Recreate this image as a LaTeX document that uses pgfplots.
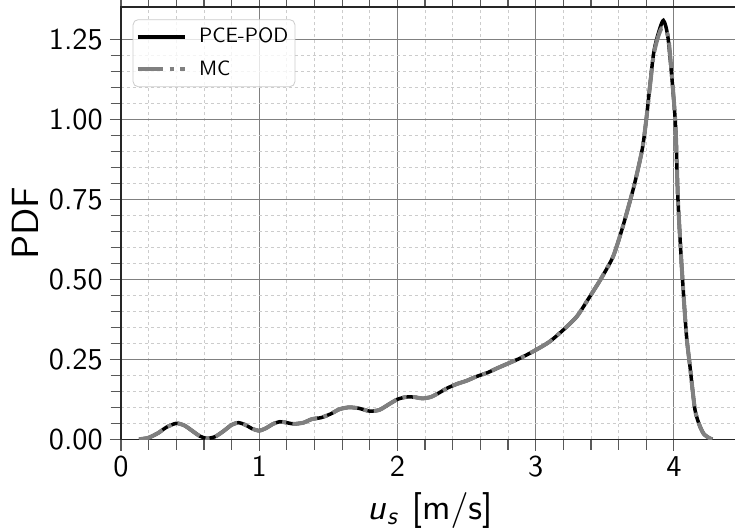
\documentclass[border=0pt]{standalone}
\usepackage{pgfplots}
\pgfplotsset{compat=1.18}
\DeclareFontFamily{OT1}{cmssx}{}
\DeclareFontShape{OT1}{cmssx}{m}{n}{<-> cmss10}{}
\DeclareFontShape{OT1}{cmssx}{m}{it}{<-> cmssi10}{}
\DeclareFontShape{OT1}{cmssx}{m}{sl}{<-> cmssi10}{}
\newcommand\mpl{\fontencoding{OT1}\fontfamily{cmssx}\selectfont}
\newcommand\lgf{\fontsize{10.4}{12}\mpl}
\begin{document}
\begin{tikzpicture}
\useasboundingbox (-60.5bp,-46.35bp) rectangle (307bp,219.65bp);
\begin{axis}[
  scale only axis,
  width=308.9bp, height=216.15bp,
  xmin=0, xmax=4.47, ymin=0, ymax=1.352,
  xtick={0,1,2,3,4},
  ytick={0,0.25,0.5,0.75,1.0,1.25},
  minor x tick num=4, minor y tick num=4,
  yticklabel style={/pgf/number format/fixed, /pgf/number format/fixed zerofill, /pgf/number format/precision=2},
  /pgf/number format/assume math mode=true,
  tick label style={font=\fontsize{15.2}{18}\mpl, text=black},
  xticklabel style={yshift=0.5bp},
  tick align=outside,
  major tick length=5.6bp, minor tick length=5.2bp,
  every tick/.style={black!65, line width=0.6bp},
  axis line style={black!85, line width=0.8bp},
  grid=both,
  major grid style={solid, black!50, line width=0.5bp},
  minor grid style={black!20, line width=0.4bp, dash pattern=on 1.7bp off 1.3bp},
  xlabel={\textit{u}\textsubscript{\textit{s}} [m/s]},
  ylabel={PDF},
  xlabel style={at={(axis description cs:0.5,0)}, anchor=base, yshift=-39.9bp, font=\fontsize{18}{21}\mpl},
  ylabel style={at={([xshift=-48bp]axis description cs:0,0.5)}, anchor=center, font=\fontsize{19}{22}\mpl},
  legend style={at={(axis description cs:0,1)}, anchor=north west, xshift=5.85bp, yshift=-6.15bp,
    draw=black!20, rounded corners=2.5bp, fill=white, fill opacity=0.8, text opacity=1,
    inner xsep=1.3bp, inner ysep=2.3bp, nodes={inner sep=2bp},
    row sep=3.5bp, column sep=4bp, cells={anchor=west}},
  legend cell align=left,
  legend image code/.code={\draw[#1] (0bp,0bp) -- (23.7bp,0bp);},
]
\addplot[black, line width=1.75bp, line cap=butt, smooth, tension=0.4] coordinates {
(0.13,0.000) (0.20,0.005) (0.27,0.020) (0.33,0.038) (0.40,0.050) (0.46,0.043)
(0.52,0.025) (0.57,0.010) (0.62,0.003) (0.68,0.008) (0.74,0.025) (0.80,0.045)
(0.85,0.052) (0.90,0.045) (0.95,0.033) (1.00,0.027) (1.05,0.035) (1.10,0.048)
(1.15,0.055) (1.20,0.052) (1.25,0.048) (1.32,0.052) (1.38,0.063) (1.45,0.068)
(1.52,0.080) (1.58,0.094) (1.65,0.100) (1.72,0.097) (1.80,0.088) (1.87,0.092)
(1.94,0.110) (2.00,0.125) (2.06,0.132) (2.12,0.132) (2.18,0.128) (2.24,0.132)
(2.30,0.145) (2.36,0.160) (2.43,0.173) (2.50,0.183) (2.57,0.196) (2.65,0.208)
(2.72,0.222) (2.80,0.237) (2.89,0.254) (3.00,0.279) (3.10,0.305) (3.20,0.342)
(3.30,0.385) (3.39,0.445) (3.47,0.500) (3.56,0.571) (3.63,0.664) (3.71,0.789)
(3.77,0.904) (3.80,0.998) (3.85,1.196) (3.88,1.258) (3.924,1.310) (3.96,1.248)
(4.01,0.998) (4.03,0.748) (4.057,0.539) (4.09,0.331) (4.117,0.227) (4.153,0.092)
(4.19,0.039) (4.22,0.015) (4.26,0.003) (4.28,0.000)
};
\addlegendentry{\lgf PCE-POD}
\addplot[gray, line width=2bp, line cap=butt, dash pattern=on 12.8bp off 3.2bp on 2bp off 3.2bp, smooth, tension=0.4] coordinates {
(0.13,0.000) (0.20,0.005) (0.27,0.020) (0.33,0.038) (0.40,0.050) (0.46,0.043)
(0.52,0.025) (0.57,0.010) (0.62,0.003) (0.68,0.008) (0.74,0.025) (0.80,0.045)
(0.85,0.052) (0.90,0.045) (0.95,0.033) (1.00,0.027) (1.05,0.035) (1.10,0.048)
(1.15,0.055) (1.20,0.052) (1.25,0.048) (1.32,0.052) (1.38,0.063) (1.45,0.068)
(1.52,0.080) (1.58,0.094) (1.65,0.100) (1.72,0.097) (1.80,0.088) (1.87,0.092)
(1.94,0.110) (2.00,0.125) (2.06,0.132) (2.12,0.132) (2.18,0.128) (2.24,0.132)
(2.30,0.145) (2.36,0.160) (2.43,0.173) (2.50,0.183) (2.57,0.196) (2.65,0.208)
(2.72,0.222) (2.80,0.237) (2.89,0.254) (3.00,0.279) (3.10,0.305) (3.20,0.342)
(3.30,0.385) (3.39,0.445) (3.47,0.500) (3.56,0.571) (3.63,0.664) (3.71,0.789)
(3.77,0.904) (3.80,0.998) (3.85,1.190) (3.88,1.250) (3.91,1.285) (3.94,1.280)
(3.965,1.240) (4.01,0.998) (4.03,0.748) (4.057,0.539) (4.09,0.331) (4.117,0.227)
(4.153,0.092) (4.19,0.039) (4.22,0.015) (4.26,0.003) (4.28,0.000)
};
\addlegendentry{\lgf MC}
\end{axis}
\end{tikzpicture}
\end{document}
